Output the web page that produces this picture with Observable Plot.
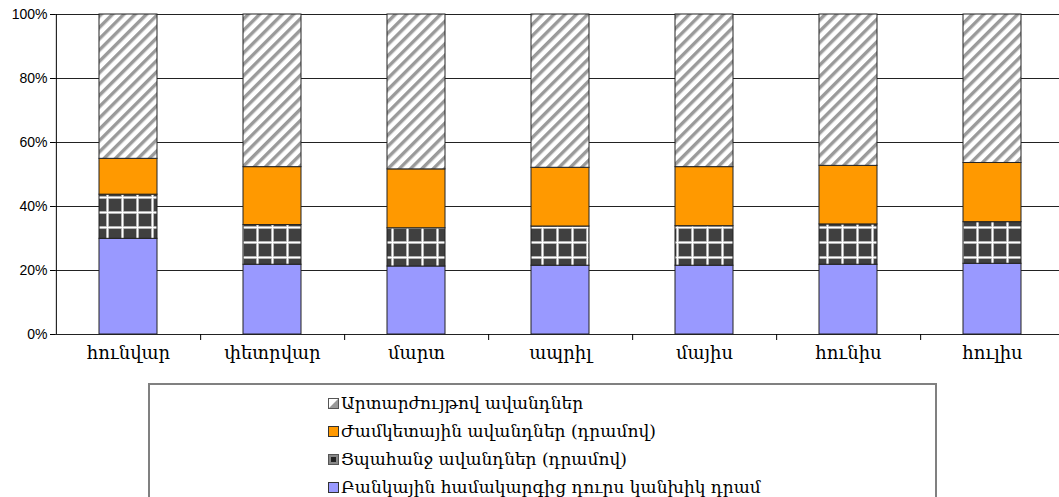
<!DOCTYPE html>
<html>
<head>
<meta charset="utf-8">
<script src="https://cdn.jsdelivr.net/npm/d3@7"></script>
<script src="https://cdn.jsdelivr.net/npm/@observablehq/plot@0.6"></script>
<style>
  html, body { margin: 0; padding: 0; background: #fff; overflow: hidden; }
  #chart svg { display: block; overflow: visible; max-width: none !important; }
  #legend {
    position: absolute; left: 148px; top: 383px; width: 789px; height: 130px;
    border: 2px solid #808080; box-sizing: border-box; background: #fff;
  }
  .item { position: absolute; left: 178px; height: 24px; display: flex; align-items: center;
    font-family: "DejaVu Serif", serif; font-size: 17px; color: #000; white-space: nowrap; }
  .item svg { margin-right: 2px; }
</style>
</head>
<body>
<div id="chart"></div>
<div id="legend"></div>
<script>
const months = ["հունվար", "փետրվար", "մարտ", "ապրիլ", "մայիս", "հունիս", "հուլիս"];
const seriesNames = [
  "Բանկային համակարգից դուրս կանխիկ դրամ",
  "Ցպահանջ ավանդներ (դրամով)",
  "Ժամկետային ավանդներ (դրամով)",
  "Արտարժույթով ավանդներ"
];
const cashOutside = [29.9, 21.8, 21.25, 21.5, 21.5, 21.8, 22.1];
const demandDeposits = [13.8, 12.4, 11.95, 12.25, 12.35, 12.6, 13.0];
const timeDeposits = [11.2, 18.1, 18.4, 18.35, 18.45, 18.3, 18.5];
const fxDeposits = [45.1, 47.7, 48.4, 47.9, 47.7, 47.3, 46.4];
const yTicks = [0, 20, 40, 60, 80, 100];

const seriesValues = [cashOutside, demandDeposits, timeDeposits, fxDeposits];
const data = [];
months.forEach((m, i) => {
  seriesNames.forEach((s, k) => data.push({month: m, series: s, value: seriesValues[k][i]}));
});

const W = 1066, H = 376, mL = 55, mR = 1, mT = 14, mB = 42;
const step = (W - mL - mR) / months.length;
const plotH = H - mT - mB;

const chart = Plot.plot({
  width: W, height: H,
  marginLeft: mL, marginRight: mR, marginTop: mT, marginBottom: mB,
  style: {fontFamily: "'Liberation Sans', Arial, sans-serif", fontSize: "14px", background: "#fff", color: "#000", maxWidth: "none"},
  x: {domain: months, paddingInner: 0.6, paddingOuter: 0.3, axis: null},
  y: {domain: [0, 100], axis: null},
  color: {domain: seriesNames, range: ["#9999ff", "url(#checker)", "#ff9900", "url(#hatch)"]},
  marks: [
    Plot.ruleY(yTicks, {stroke: "#222", strokeWidth: 1}),
    Plot.barY(data, {x: "month", y: "value", fill: "series", order: seriesNames, stroke: "#222", strokeWidth: 1}),
    Plot.axisY({ticks: yTicks, tickFormat: d => d + "%", tickSize: 5, tickPadding: 3, label: null, fontSize: 14, stroke: "#000"}),
    Plot.ruleX([0], {x: () => months[0], dx: -step / 2, stroke: "#000"}),
    Plot.ruleX(months.slice(0, 6), {dx: step / 2, insetTop: plotH, insetBottom: -6, stroke: "#000"}),
    Plot.axisX({tickSize: 0, tickPadding: 12, label: null, fontFamily: "'DejaVu Serif', serif", fontSize: 18})
  ]
});

// patterns
const defs = d3.select(chart).insert("defs", ":first-child");
const hatch = defs.append("pattern").attr("id", "hatch").attr("patternUnits", "userSpaceOnUse")
  .attr("width", 8).attr("height", 8).attr("patternTransform", "rotate(45)");
hatch.append("rect").attr("width", 8).attr("height", 8).attr("fill", "#fff");
hatch.append("rect").attr("x", 0).attr("width", 3.2).attr("height", 8).attr("fill", "#9a9a9a");
hatch.append("rect").attr("x", 3.2).attr("width", 0.8).attr("height", 8).attr("fill", "#cfcfcf");
const checker = defs.append("pattern").attr("id", "checker").attr("patternUnits", "userSpaceOnUse")
  .attr("width", 15).attr("height", 15).attr("x", 1).attr("y", 1);
checker.append("rect").attr("width", 15).attr("height", 15).attr("fill", "#404040");
checker.append("rect").attr("x", 0).attr("width", 3).attr("height", 15).attr("fill", "#a0a0a0");
checker.append("rect").attr("y", 0).attr("width", 15).attr("height", 3).attr("fill", "#a0a0a0");
checker.append("rect").attr("x", 0.8).attr("width", 1.4).attr("height", 15).attr("fill", "#fff");
checker.append("rect").attr("y", 0.8).attr("width", 15).attr("height", 1.4).attr("fill", "#fff");

document.getElementById("chart").appendChild(chart);

// legend (top to bottom: reverse of stack order)
const legend = document.getElementById("legend");
const icons = {
  "Արտարժույթով ավանդներ": `<svg width="11" height="11"><rect x="0.5" y="0.5" width="10" height="10" fill="#fff" stroke="#555"/><polygon points="10.5,0.5 10.5,10.5 0.5,10.5" fill="#999"/><rect x="0.5" y="0.5" width="10" height="10" fill="none" stroke="#555"/></svg>`,
  "Ժամկետային ավանդներ (դրամով)": `<svg width="11" height="11"><rect x="0.5" y="0.5" width="10" height="10" fill="#ff9900" stroke="#333"/></svg>`,
  "Ցպահանջ ավանդներ (դրամով)": `<svg width="11" height="11"><rect x="0.5" y="0.5" width="10" height="10" fill="#888" stroke="#555"/><rect x="3" y="3" width="5" height="5" fill="#222"/></svg>`,
  "Բանկային համակարգից դուրս կանխիկ դրամ": `<svg width="11" height="11"><rect x="0.5" y="0.5" width="10" height="10" fill="#9999ff" stroke="#333"/></svg>`
};
seriesNames.slice().reverse().forEach((s, i) => {
  const div = document.createElement("div");
  div.className = "item";
  div.style.top = (6 + i * 28) + "px";
  div.innerHTML = icons[s] + `<span>${s}</span>`;
  legend.appendChild(div);
});
</script>
</body>
</html>
